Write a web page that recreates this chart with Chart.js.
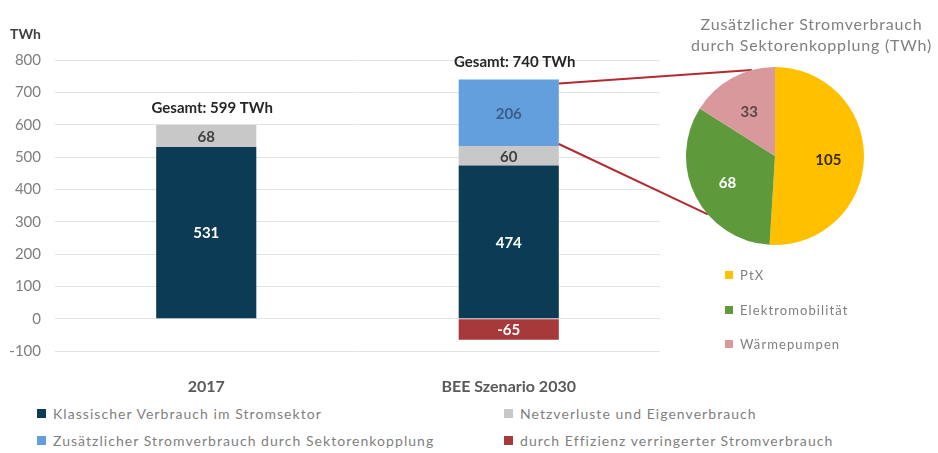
<!DOCTYPE html>
<html>
<head>
<meta charset="utf-8">
<script src="https://cdn.jsdelivr.net/npm/chart.js@4.4.1/dist/chart.umd.min.js"></script>
<style>
  html, body { margin:0; padding:0; background:#fff; width:938px; height:453px; overflow:hidden; font-family: Lato, "Open Sans", sans-serif; }
  #wrap { position:relative; width:938px; height:453px; }
  #barCanvas { position:absolute; left:0; top:0; }
  #pieCanvas { position:absolute; }
  .txt { position:absolute; white-space:nowrap; }
  .unit { left:10px; top:25px; font-size:14px; font-weight:bold; color:#404040; }
  .pieTitle { left:680px; width:263px; top:13px; text-align:center; font-size:16px; line-height:21px; color:#808080; letter-spacing:0.8px; }
  .lg { position:absolute; display:flex; align-items:center; white-space:nowrap; color:#7F7F7F; }
  .lg .sw { display:inline-block; flex:none; }
  .bl { font-size:14px; letter-spacing:1.05px; height:20px; }
  .bl .sw { width:9px; height:9px; margin-right:7px; }
  .pl { font-size:13px; letter-spacing:1.1px; height:18px; }
  .pl .sw { width:8px; height:8px; margin-right:7px; }
</style>
</head>
<body>
<div id="wrap">
  <canvas id="barCanvas" width="938" height="400"></canvas>
  <canvas id="pieCanvas" width="190" height="190"></canvas>
  <div class="txt unit">TWh</div>
  <div class="txt pieTitle">Zusätzlicher Stromverbrauch<br>durch Sektorenkopplung (TWh)</div>
  <div id="barLegend"></div>
  <div id="pieLegend"></div>
</div>
<script>
// ---------- DATA ----------
const categories = ['2017', 'BEE Szenario 2030'];
const klassisch   = [531, 474];
const netzverluste = [68, 60];
const sektorkopplung = [null, 206];
const effizienz   = [null, -65];
const seriesNames = [
  'Klassischer Verbrauch im Stromsektor',
  'Netzverluste und Eigenverbrauch',
  'Zusätzlicher Stromverbrauch durch Sektorenkopplung',
  'durch Effizienz verringerter Stromverbrauch'
];
const yTicks = { min: -100, max: 800, step: 100 };
const totalPrefix = 'Gesamt: ';
const totalSuffix = ' TWh';

const pieLabels = ['PtX', 'Elektromobilität', 'Wärmepumpen'];
const pieValues = [105, 68, 33];

// ---------- STYLE ----------
const barColors = ['#0C3C55', '#C8C8C8', '#639FDC', '#A8393A'];
const barLabelColors = ['#FFFFFF', '#404040', '#3A5E8C', '#FFFFFF'];
const pieColors = ['#FFC000', '#5E9A3C', '#D9989B'];
const pieLabelColors = ['#3A2C00', '#FFFFFF', '#5A4848'];
const connectorColor = '#B42A31';
const PIE_POS = { left: 680, top: 61, size: 190, pad: 6 };
const connectorAngles = [345, 229]; // degrees clockwise from top, on pie rim

// ---------- PIE ----------
const pieLabelPlugin = {
  id: 'pieLabels',
  afterDatasetsDraw(chart) {
    const ctx = chart.ctx;
    const meta = chart.getDatasetMeta(0);
    ctx.save();
    ctx.font = 'bold 15px Lato, sans-serif';
    ctx.textAlign = 'center';
    ctx.textBaseline = 'middle';
    meta.data.forEach((arc, i) => {
      const p = arc.getProps(['x','y','startAngle','endAngle','outerRadius'], true);
      const mid = (p.startAngle + p.endAngle) / 2;
      const r = p.outerRadius * 0.6;
      ctx.fillStyle = pieLabelColors[i];
      ctx.fillText(String(pieValues[i]), p.x + Math.cos(mid) * r, p.y + Math.sin(mid) * r + 3);
    });
    ctx.restore();
  }
};

const pieCanvas = document.getElementById('pieCanvas');
pieCanvas.style.left = PIE_POS.left + 'px';
pieCanvas.style.top = PIE_POS.top + 'px';
const pieChart = new Chart(pieCanvas, {
  type: 'pie',
  data: { labels: pieLabels, datasets: [{ data: pieValues, backgroundColor: pieColors, borderWidth: 0 }] },
  options: {
    responsive: false, animation: false,
    layout: { padding: PIE_POS.pad },
    plugins: { legend: { display: false }, tooltip: { enabled: false } }
  },
  plugins: [pieLabelPlugin]
});

// ---------- BAR ----------
const barLabelPlugin = {
  id: 'barLabels',
  afterDatasetsDraw(chart) {
    const ctx = chart.ctx;
    ctx.save();
    ctx.textAlign = 'center';
    ctx.textBaseline = 'middle';
    ctx.font = 'bold 15px Lato, sans-serif';
    chart.data.datasets.forEach((ds, i) => {
      const meta = chart.getDatasetMeta(i);
      meta.data.forEach((el, j) => {
        const v = ds.data[j];
        if (v == null) return;
        const p = el.getProps(['x','y','base'], true);
        ctx.fillStyle = barLabelColors[i];
        ctx.fillText(String(v), p.x, (p.y + p.base) / 2 + 1);
      });
    });
    // totals
    const yS = chart.scales.y;
    const xS = chart.scales.x;
    ctx.fillStyle = '#262626';
    ctx.font = 'bold 15px Lato, sans-serif';
    categories.forEach((c, j) => {
      let total = 0;
      chart.data.datasets.forEach(ds => { const v = ds.data[j]; if (v > 0) total += v; });
      ctx.fillText(totalPrefix + total + totalSuffix, xS.getPixelForValue(j) + 6, yS.getPixelForValue(total) - 17);
    });
    ctx.restore();
  },
  afterDraw(chart) {
    // connectors from the Sektorenkopplung bar to the pie rim
    const el = chart.getDatasetMeta(2).data[1];
    const p = el.getProps(['x','y','base','width'], true);
    const arc = pieChart.getDatasetMeta(0).data[0];
    const cx = PIE_POS.left + arc.x, cy = PIE_POS.top + arc.y, R = arc.outerRadius;
    const starts = [[p.x + p.width / 2, p.y + 4], [p.x + p.width / 2, p.base - 2]];
    const ctx = chart.ctx;
    ctx.save();
    ctx.strokeStyle = connectorColor;
    ctx.lineWidth = 2;
    connectorAngles.forEach((a, k) => {
      const rad = (a - 90) * Math.PI / 180;
      ctx.beginPath();
      ctx.moveTo(starts[k][0], starts[k][1]);
      ctx.lineTo(cx + Math.cos(rad) * R, cy + Math.sin(rad) * R);
      ctx.stroke();
    });
    ctx.restore();
  }
};

const seriesData = [klassisch, netzverluste, sektorkopplung, effizienz];
new Chart(document.getElementById('barCanvas'), {
  type: 'bar',
  data: {
    labels: categories,
    datasets: seriesData.map((d, i) => ({
      label: seriesNames[i], data: d, backgroundColor: barColors[i],
      borderWidth: 0, barPercentage: 0.331, categoryPercentage: 1
    }))
  },
  options: {
    responsive: false, animation: false,
    layout: { padding: { top: 60, right: 278, left: 0, bottom: 0 } },
    plugins: { legend: { display: false }, tooltip: { enabled: false } },
    scales: {
      x: {
        stacked: true,
        grid: { display: false }, border: { display: false },
        ticks: { color: '#595959', font: { size: 16, weight: 'bold', family: 'Lato' }, padding: 18 },
        afterFit(s) { s.height = 49; }
      },
      y: {
        stacked: true, min: yTicks.min, max: yTicks.max,
        ticks: { stepSize: yTicks.step, color: '#7F7F7F', font: { size: 15, family: 'Lato' }, padding: 14 },
        grid: { color: '#E3E3E3', drawTicks: false, lineWidth: 1 },
        border: { display: false },
        afterFit(s) { s.width = 55; }
      }
    }
  },
  plugins: [barLabelPlugin]
});

// ---------- HTML LEGENDS ----------
const barLegendPos = [[37, 403], [504, 403], [37, 430], [504, 430]];
const barLegendOrder = [0, 1, 2, 3];
const bl = document.getElementById('barLegend');
barLegendOrder.forEach((si, k) => {
  const d = document.createElement('div');
  d.className = 'lg bl';
  d.style.left = barLegendPos[k][0] + 'px';
  d.style.top = barLegendPos[k][1] + 'px';
  d.innerHTML = '<span class="sw" style="background:' + barColors[si] + '"></span>' + seriesNames[si];
  bl.appendChild(d);
});
const pl = document.getElementById('pieLegend');
pieLabels.forEach((lab, i) => {
  const d = document.createElement('div');
  d.className = 'lg pl';
  d.style.left = '725px';
  d.style.top = (266 + i * 34.5) + 'px';
  d.innerHTML = '<span class="sw" style="background:' + pieColors[i] + '"></span>' + lab;
  pl.appendChild(d);
});
</script>
</body>
</html>
